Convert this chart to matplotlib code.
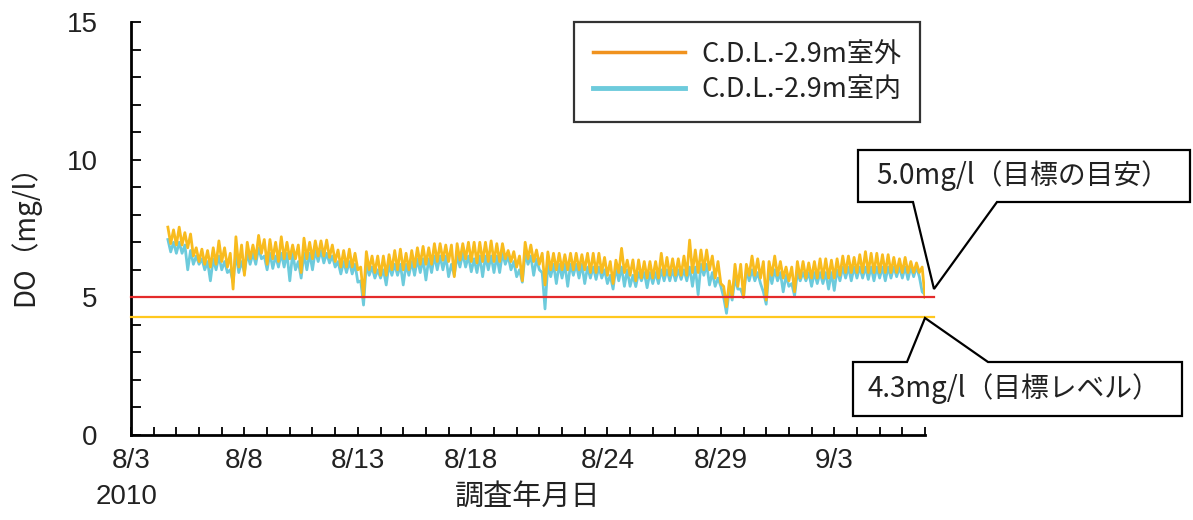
import matplotlib
matplotlib.use('Agg')
import matplotlib.pyplot as plt
import matplotlib.dates as mdates
from matplotlib.lines import Line2D
from matplotlib.patches import Polygon
import pandas as pd

# ---- data (DO, mg/l) ----
# Readings of the top and bottom of each plotted trace, every 6 hours from
# 2010-08-04 15:00 (the logger traces oscillate between these within each step).
start_time = '2010-08-04 15:00'
outside_high = [  # C.D.L.-2.9m 室外
    7.55, 7.45, 7.55, 7.35, 7.30, 6.80, 6.75, 6.70, 6.80, 7.05, 6.80, 6.60,
    7.20, 6.90, 7.00, 6.90, 7.25, 7.10, 7.10, 7.00, 7.20, 7.00, 6.90, 6.90,
    7.15, 7.00, 7.05, 7.05, 7.08, 6.90, 6.72, 6.70, 6.75, 6.60, 6.10, 6.66,
    6.50, 6.50, 6.50, 6.55, 6.70, 6.75, 6.60, 6.70, 6.80, 6.85, 6.80, 6.95,
    6.95, 6.90, 6.90, 6.95, 6.95, 7.00, 7.00, 7.00, 7.00, 7.05, 6.95, 6.95,
    6.70, 6.66, 6.50, 7.00, 6.90, 6.72, 6.60, 6.65, 6.60, 6.60, 6.55, 6.60,
    6.60, 6.55, 6.60, 6.60, 6.60, 6.45, 6.30, 6.35, 6.78, 6.35, 6.36, 6.36,
    6.30, 6.30, 6.30, 6.60, 6.45, 6.40, 6.40, 6.50, 7.08, 6.72, 6.72, 6.72,
    6.50, 6.30, 5.40, 5.60, 6.20, 6.20, 6.20, 6.50, 6.40, 6.30, 6.30, 6.50,
    6.30, 6.10, 6.10, 6.30, 6.30, 6.25, 6.30, 6.40, 6.40, 6.35, 6.40, 6.50,
    6.50, 6.45, 6.55, 6.66, 6.60, 6.60, 6.55, 6.55, 6.45, 6.40, 6.45, 6.30,
    6.25, 6.10,
]
outside_low = [
    6.95, 6.90, 6.90, 6.80, 6.50, 6.30, 6.20, 6.10, 6.20, 6.30, 6.10, 5.30,
    6.10, 5.80, 6.40, 6.40, 6.60, 6.20, 6.40, 6.30, 6.40, 6.40, 6.40, 5.90,
    6.40, 6.40, 6.50, 6.50, 6.45, 6.30, 6.10, 6.10, 6.10, 6.00, 5.00, 6.00,
    5.90, 5.80, 5.80, 6.00, 6.00, 6.00, 6.00, 6.10, 6.20, 6.20, 6.20, 6.30,
    6.35, 6.30, 5.75, 6.35, 6.40, 6.30, 6.25, 6.30, 6.30, 6.30, 6.30, 6.40,
    6.30, 6.10, 5.60, 6.40, 6.30, 6.20, 5.45, 6.00, 6.00, 6.00, 6.00, 6.00,
    6.00, 6.00, 5.90, 5.90, 5.90, 5.80, 5.50, 5.90, 5.90, 5.80, 5.60, 5.70,
    5.70, 5.70, 5.70, 5.80, 5.80, 5.80, 5.80, 5.80, 5.90, 5.90, 6.00, 6.00,
    5.70, 5.50, 4.66, 5.00, 5.40, 5.00, 5.80, 5.80, 5.70, 4.90, 5.80, 5.80,
    5.70, 5.60, 5.20, 5.70, 5.70, 5.70, 5.70, 5.70, 5.70, 5.70, 5.80, 5.90,
    5.90, 5.90, 5.90, 5.90, 5.90, 5.90, 5.90, 5.90, 5.90, 5.90, 5.90, 5.90,
    5.90, 5.00,
]
inside_high = [  # C.D.L.-2.9m 室内
    7.10, 7.00, 7.00, 6.90, 6.70, 6.50, 6.40, 6.30, 6.40, 6.50, 6.30, 6.00,
    6.60, 6.30, 6.60, 6.60, 6.80, 6.50, 6.60, 6.50, 6.60, 6.60, 6.60, 6.30,
    6.60, 6.60, 6.70, 6.70, 6.60, 6.50, 6.30, 6.30, 6.30, 6.20, 5.60, 6.20,
    6.10, 6.00, 6.00, 6.20, 6.20, 6.20, 6.20, 6.30, 6.40, 6.40, 6.40, 6.50,
    6.50, 6.50, 6.20, 6.50, 6.60, 6.50, 6.40, 6.50, 6.50, 6.50, 6.50, 6.60,
    6.50, 6.30, 6.00, 6.60, 6.50, 6.40, 5.90, 6.20, 6.20, 6.20, 6.20, 6.20,
    6.20, 6.20, 6.10, 6.10, 6.10, 6.00, 5.80, 6.10, 6.10, 6.00, 5.80, 5.90,
    5.90, 5.90, 5.90, 6.00, 6.00, 6.00, 6.00, 6.00, 6.10, 6.10, 6.20, 6.20,
    5.90, 5.70, 5.00, 5.30, 5.70, 5.30, 6.00, 6.00, 5.90, 5.20, 6.00, 6.00,
    5.90, 5.80, 5.50, 5.90, 5.90, 5.90, 5.90, 5.90, 5.90, 5.90, 6.00, 6.10,
    6.10, 6.10, 6.10, 6.10, 6.10, 6.10, 6.10, 6.10, 6.10, 6.10, 6.10, 6.10,
    6.10, 5.20,
]
inside_low = [
    6.65, 6.60, 6.60, 6.00, 6.20, 6.20, 6.00, 5.60, 6.00, 6.00, 5.90, 5.55,
    5.90, 5.90, 6.20, 6.20, 6.40, 6.00, 6.05, 6.10, 6.10, 5.60, 6.00, 5.70,
    6.00, 6.00, 6.30, 6.25, 6.25, 6.10, 5.85, 5.90, 5.85, 5.55, 4.72, 5.80,
    5.70, 5.70, 5.45, 5.80, 5.80, 5.45, 5.80, 5.80, 5.90, 5.63, 5.90, 6.00,
    6.00, 5.75, 5.80, 6.10, 6.10, 5.93, 5.90, 5.75, 6.00, 5.90, 5.90, 6.20,
    6.00, 5.75, 5.55, 6.20, 5.80, 6.00, 4.58, 5.75, 5.50, 5.70, 5.40, 5.80,
    5.70, 5.50, 5.70, 5.65, 5.70, 5.50, 5.30, 5.60, 5.40, 5.40, 5.39, 5.60,
    5.35, 5.50, 5.50, 5.60, 5.60, 5.60, 5.65, 5.60, 5.40, 5.10, 5.80, 5.45,
    5.40, 5.40, 4.42, 4.90, 5.30, 5.00, 5.60, 5.60, 5.50, 4.75, 5.50, 5.60,
    5.20, 5.40, 5.05, 5.60, 5.60, 5.40, 5.50, 5.50, 5.30, 5.25, 5.60, 5.70,
    5.60, 5.70, 5.70, 5.65, 5.60, 5.70, 5.60, 5.70, 5.75, 5.70, 5.65, 5.75,
    5.75, 5.10,
]
series_labels = ['C.D.L.-2.9m室外', 'C.D.L.-2.9m室内']
tick_dates = ['2010-08-03', '2010-08-08', '2010-08-13', '2010-08-18',
              '2010-08-24', '2010-08-29', '2010-09-03']
tick_labels = ['8/3', '8/8', '8/13', '8/18', '8/24', '8/29', '9/3']
x_range = ['2010-08-03', '2010-09-07']
guide_value = 5.0      # 目標の目安
level_value = 4.3      # 目標レベル
y_ticks = [0, 5, 10, 15]

# ---- styling ----
plt.rcParams['font.family'] = ['Noto Sans CJK JP', 'DejaVu Sans']
num_font = 'Liberation Sans'
num_size = 20

W, H = 1193, 520
def fp(x, y):
    return (x / W, 1 - y / H)

c_out = '#F8BB1E'
c_out_leg = '#F0921E'
c_in = '#6DCBDC'
c_red = '#E42B2B'
c_yel = '#FFC81E'
c_txt = '#222222'


def trace(high, low):
    """Time/value pairs for a trace swinging between its top and bottom readings."""
    t0 = pd.Timestamp(start_time)
    times, vals = [], []
    for k, (h, l) in enumerate(zip(high, low)):
        times += [t0 + pd.Timedelta(hours=6 * k), t0 + pd.Timedelta(hours=6 * k + 3)]
        vals += [h, l]
    return times, vals


fig = plt.figure(figsize=(W / 100, H / 100), dpi=100)
ax = fig.add_axes([131 / W, 85 / H, 794 / W, 413 / H])

ti, vi = trace(inside_high, inside_low)
to, vo = trace(outside_high, outside_low)
ax.plot(ti, vi, color=c_in, lw=2.0, zorder=2)
ax.plot(to, vo, color=c_out, lw=2.0, zorder=3)

x0 = pd.Timestamp(x_range[0])
x1 = pd.Timestamp(x_range[1])
x_ext = x1 + pd.Timedelta(hours=10)
ax.plot([x0, x_ext], [guide_value, guide_value], color=c_red, lw=1.6,
        clip_on=False, zorder=4)
ax.plot([x0, x_ext], [level_value, level_value], color=c_yel, lw=1.6,
        clip_on=False, zorder=4)

ax.set_xlim(x0, x1)
ax.set_ylim(0, 15)
ax.set_yticks(y_ticks)
ax.set_yticks(range(0, 16), minor=True)
ax.set_xticks(pd.to_datetime(tick_dates))
ax.set_xticklabels(tick_labels)
ax.xaxis.set_minor_locator(mdates.DayLocator())
ax.tick_params(axis='both', which='both', direction='in', width=1.3, color='black')
ax.tick_params(axis='x', which='both', length=6, pad=9)
ax.tick_params(axis='y', which='both', length=7, pad=24)
for lab in ax.get_xticklabels() + ax.get_yticklabels():
    lab.set_fontfamily(num_font)
    lab.set_fontsize(num_size)
    lab.set_color(c_txt)
for s in ['top', 'right']:
    ax.spines[s].set_visible(False)
for s in ['left', 'bottom']:
    ax.spines[s].set_linewidth(2)

ax.set_ylabel('DO（mg/l）', fontsize=20, color=c_txt)
ax.yaxis.set_label_coords(-0.114, 0.5)
fig.text(528 / W, 1 - 497 / H, '調査年月日', ha='center', va='center',
         fontsize=21, color=c_txt)
fig.text(127 / W, 1 - 497 / H, '2010', ha='center', va='center',
         fontsize=num_size, family=num_font, color=c_txt)

handles = [Line2D([], [], color=c_out_leg, lw=2.5),
           Line2D([], [], color=c_in, lw=3.5)]
leg = ax.legend(handles, series_labels, loc='upper right',
                bbox_to_anchor=fp(920, 22), bbox_transform=fig.transFigure,
                fontsize=19.5, frameon=True, fancybox=False, handlelength=3.4,
                handletextpad=0.6, labelspacing=0.3, borderpad=0.7,
                borderaxespad=0)
leg.get_frame().set_edgecolor('black')
leg.get_frame().set_linewidth(1.6)
for t in leg.get_texts():
    t.set_color(c_txt)

# callout boxes
box1 = [(858, 150), (1190, 150), (1190, 202), (997, 202), (934, 289),
        (913, 202), (858, 202)]
box2 = [(853, 362), (907, 362), (925, 318), (988, 362), (1182, 362),
        (1182, 416), (853, 416)]
for pts in (box1, box2):
    fig.add_artist(Polygon([fp(*p) for p in pts], closed=True,
                           transform=fig.transFigure, facecolor='white',
                           edgecolor='black', lw=1.6, zorder=5))
fig.text(*fp(876, 176), f'{guide_value:.1f}mg/l（目標の目安）', ha='left',
         va='center', fontsize=20, color=c_txt, zorder=6)
fig.text(*fp(868, 389), f'{level_value:.1f}mg/l（目標レベル）', ha='left',
         va='center', fontsize=20, color=c_txt, zorder=6)

fig.savefig('out.png', dpi=100)
